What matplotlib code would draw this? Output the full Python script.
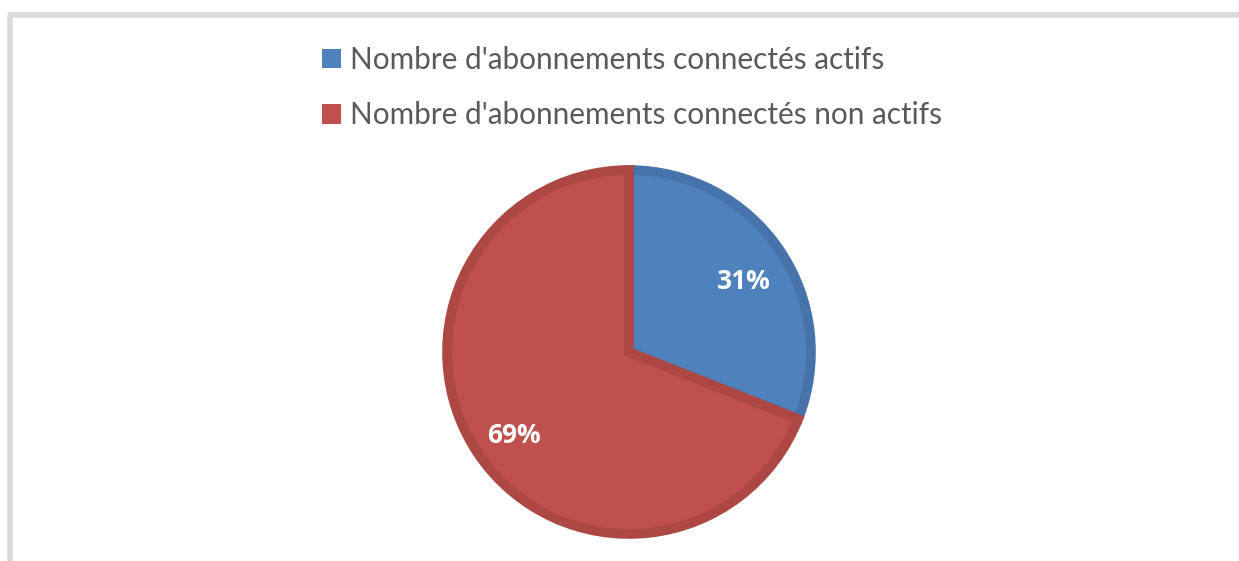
import matplotlib.pyplot as plt
from matplotlib.patches import Patch
from matplotlib.lines import Line2D

labels = ["Nombre d'abonnements connectés actifs",
          "Nombre d'abonnements connectés non actifs"]
values = [31, 69]
colors = ['#4F81BD', '#C0504D']
edge_colors = ['#4674AA', '#AD4744']

W, H = 1239, 561
fig = plt.figure(figsize=(W / 100, H / 100), dpi=100)

# pie, centre ~ (629, 352), outer radius ~ 187 px
cx, cy, r = 629, 352, 187
ax = fig.add_axes([(cx - r) / W, 1 - (cy + r) / H, 2 * r / W, 2 * r / H])
wedges, texts, autotexts = ax.pie(values, colors=colors, startangle=90, counterclock=False,
                                  radius=0.973, autopct='%d%%', pctdistance=0.75,
                                  wedgeprops=dict(linewidth=7, linestyle='-'),
                                  textprops=dict(color='white', fontsize=19, fontweight='bold',
                                                 family='Open Sans'))
for w, ec in zip(wedges, edge_colors):
    w.set_edgecolor(ec)
    w.set_joinstyle('miter')
# Excel puts the labels a little lower than the mid angle
for t in autotexts:
    x, y = t.get_position()
    t.set_position((x * 1.02, y - 0.035))
ax.set_xlim(-1, 1)
ax.set_ylim(-1, 1)
ax.set_aspect('equal')
ax.axis('off')

# legend
handles = [Patch(facecolor=c, edgecolor='none') for c in colors]
fig.legend(handles, labels, loc='upper left', bbox_to_anchor=(322 / W, 1 - 46 / H),
           frameon=False, handlelength=0.65, handleheight=0.65, handletextpad=0.3,
           labelspacing=0.92, prop=dict(family='Lato', size=21.4), labelcolor='#595959',
           borderpad=0, borderaxespad=0)

# grey frame (top and left border)
fig.add_artist(Line2D([9.5 / W, 9.5 / W], [0, 1 - 14.5 / H], color='#D9D9D9', lw=4,
                      transform=fig.transFigure, solid_capstyle='butt'))
fig.add_artist(Line2D([7.5 / W, 1], [1 - 14.5 / H, 1 - 14.5 / H], color='#D9D9D9', lw=4,
                      transform=fig.transFigure, solid_capstyle='butt'))

fig.savefig('out.png', dpi=100, facecolor='white')
